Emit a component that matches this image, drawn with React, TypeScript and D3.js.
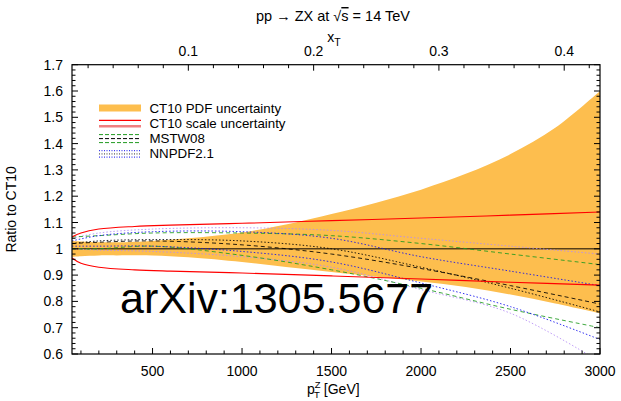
import React from "react";
import * as d3 from "d3";

// ---------- data ----------
const bandPt = [50, 100, 200, 300, 500, 700, 1000, 1300, 1500, 1750, 2000, 2250, 2500, 2750, 3000];
const bandHigh = [1.03, 1.028, 1.025, 1.025, 1.03, 1.04, 1.062, 1.1, 1.132, 1.175, 1.225, 1.285, 1.36, 1.46, 1.6];
const bandLow = [0.97, 0.972, 0.975, 0.975, 0.975, 0.968, 0.95, 0.927, 0.912, 0.894, 0.876, 0.855, 0.826, 0.792, 0.755];

const scalePt = [50, 100, 200, 400, 600, 1000, 1500, 2000, 2500, 3000];
const scaleHigh = [1.045, 1.06, 1.075, 1.085, 1.09, 1.097, 1.107, 1.117, 1.128, 1.14];
const scaleLow = [0.965, 0.945, 0.93, 0.92, 0.915, 0.908, 0.897, 0.885, 0.873, 0.862];

const ptGrid = [50, 200, 500, 1000, 1500, 2000, 2500, 3000];
const mstwCentral = [1.02, 1.025, 1.03, 1.015, 0.98, 0.925, 0.86, 0.79];
const mstwHigh = [1.045, 1.05, 1.06, 1.06, 1.05, 1.02, 0.98, 0.94];
const mstwLow = [1.0, 1.0, 1.01, 0.975, 0.92, 0.85, 0.77, 0.7];
const nnpdfCentral = [1.02, 1.03, 1.035, 1.03, 1.0, 0.93, 0.85, 0.76];
const nnpdfHigh = [1.03, 1.05, 1.065, 1.065, 1.04, 0.97, 0.915, 0.86];
const nnpdfLow = [1.01, 1.01, 1.01, 0.99, 0.95, 0.87, 0.78, 0.655];
const nnpdfAltHigh = [1.04, 1.06, 1.075, 1.08, 1.07, 1.04, 1.01, 0.98];
const nnpdfAltLow = [1.0, 0.995, 0.99, 0.97, 0.93, 0.845, 0.755, 0.57];

const xTicks = [500, 1000, 1500, 2000, 2500, 3000];
const xMinor = d3.range(100, 3001, 100);
const xtTicks = [0.1, 0.2, 0.3, 0.4];
const xtMinor = d3.range(0.02, 0.43, 0.02);
const yTicks = [0.6, 0.7, 0.8, 0.9, 1.0, 1.1, 1.2, 1.3, 1.4, 1.5, 1.6, 1.7];
const yMinor = d3.range(0.6, 1.701, 0.02);

const legendLabels = ["CT10 PDF uncertainty", "CT10 scale uncertainty", "MSTW08", "NNPDF2.1"];

// ---------- layout ----------
const W = 621, H = 401;
const L = 72, R = 600, T = 64.7, B = 354;
const FONT = "'Liberation Sans', Arial, Helvetica, sans-serif";
const ORANGE = "#fdbe4e";

export default function App() {
  const x = d3.scaleLinear().domain([50, 3000]).range([L, R]);
  const xt = d3.scaleLinear().domain([50 / 7000, 3000 / 7000]).range([L, R]);
  const y = d3.scaleLinear().domain([0.6, 1.7]).range([B, T]);

  const area = d3
    .area<number>()
    .x((_, i) => x(bandPt[i]))
    .y0((_, i) => y(bandLow[i]))
    .y1((_, i) => y(bandHigh[i]))
    .curve(d3.curveCatmullRom);

  const mk = (pts: number[], vals: number[]) =>
    d3
      .line<number>()
      .x((_, i) => x(pts[i]))
      .y((v) => y(v))
      .curve(d3.curveCatmullRom)(vals) || "";

  const series = [
    { v: nnpdfAltHigh, c: "#b48cf5", d: "1.5,2" },
    { v: nnpdfAltLow, c: "#b48cf5", d: "1.5,2" },
    { v: mstwHigh, c: "#1f9a1f", d: "4,3" },
    { v: mstwLow, c: "#1f9a1f", d: "4,3" },
    { v: nnpdfHigh, c: "#1010ee", d: "1.5,2" },
    { v: nnpdfLow, c: "#1010ee", d: "1.5,2" },
    { v: mstwCentral, c: "#000", d: "4,3" },
    { v: nnpdfCentral, c: "#000", d: "1.5,2" },
  ];

  const legY = [108, 123.3, 138.6, 153.9];

  return (
    <svg width={W} height={H} style={{ position: "absolute", left: 0, top: 0, background: "#fff" }} fontFamily={FONT}>
      <defs>
        <clipPath id="plot">
          <rect x={L} y={T} width={R - L} height={B - T} />
        </clipPath>
      </defs>

      {/* title */}
      <text x={333} y={21} textAnchor="middle" fontSize={14.5}>
        pp → ZX at √<tspan style={{ textDecoration: "overline" }}>s</tspan> = 14 TeV
      </text>
      <text x={334} y={42} textAnchor="middle" fontSize={14}>
        x<tspan fontSize={10.5} dy={4}>T</tspan>
      </text>

      <g clipPath="url(#plot)">
        <path d={area(bandPt) || ""} fill={ORANGE} />
        <line x1={L} x2={R} y1={y(1)} y2={y(1)} stroke="#3a2a10" strokeWidth={1.5} strokeOpacity={0.85} />
        {series.map((s, i) => (
          <path key={i} d={mk(ptGrid, s.v)} fill="none" stroke={s.c} strokeWidth={1} strokeOpacity={0.85} strokeDasharray={s.d} />
        ))}
        <path d={mk(scalePt, scaleHigh)} fill="none" stroke="#ff0000" strokeWidth={1.1} />
        <path d={mk(scalePt, scaleLow)} fill="none" stroke="#ff0000" strokeWidth={1.1} />
      </g>

      {/* watermark */}
      <text x={120} y={313} fontSize={43} fill="#000">arXiv:1305.5677</text>

      {/* legend */}
      <rect x={99} y={legY[0] - 3.5} width={42} height={7} fill={ORANGE} />
      <line x1={99} x2={141} y1={legY[1] - 3} y2={legY[1] - 3} stroke="#ff0000" strokeWidth={1.2} />
      <line x1={99} x2={141} y1={legY[1] + 3} y2={legY[1] + 3} stroke="#f08080" strokeWidth={2.5} />
      <line x1={99} x2={141} y1={legY[2] - 4} y2={legY[2] - 4} stroke="#1f9a1f" strokeWidth={1} strokeDasharray="4,2" />
      <line x1={99} x2={141} y1={legY[2]} y2={legY[2]} stroke="#000" strokeWidth={1} strokeDasharray="4,2" />
      <line x1={99} x2={141} y1={legY[2] + 4} y2={legY[2] + 4} stroke="#1f9a1f" strokeWidth={1} strokeDasharray="4,2" />
      <line x1={99} x2={141} y1={legY[3] - 3.2} y2={legY[3] - 3.2} stroke="#1010ee" strokeWidth={1} strokeDasharray="1,1.5" />
      <line x1={99} x2={141} y1={legY[3]} y2={legY[3]} stroke="#888" strokeWidth={1.6} strokeDasharray="1,1.5" />
      <line x1={99} x2={141} y1={legY[3] + 3.2} y2={legY[3] + 3.2} stroke="#1010ee" strokeWidth={1} strokeDasharray="1,1.5" />
      {legendLabels.map((t, i) => (
        <text key={t} x={149.5} y={legY[i] + 4.5} fontSize={13.3}>
          {t}
        </text>
      ))}

      {/* frame */}
      <rect x={L} y={T} width={R - L} height={B - T} fill="none" stroke="#000" strokeWidth={1.2} />

      {/* bottom & top ticks */}
      {xMinor.map((v) => {
        const major = xTicks.includes(v);
        const len = major ? 6 : 3.5;
        return <line key={"bx" + v} x1={x(v)} x2={x(v)} y1={B} y2={B - len} stroke="#000" strokeWidth={1} />;
      })}
      {xTicks.map((v) => (
        <text key={"bl" + v} x={x(v)} y={376} textAnchor="middle" fontSize={14}>
          {v}
        </text>
      ))}
      {xtMinor.map((v, i) => {
        const major = xtTicks.some((m) => Math.abs(m - v) < 1e-6);
        const len = major ? 6 : 3.5;
        return <line key={"tx" + i} x1={xt(v)} x2={xt(v)} y1={T} y2={T + len} stroke="#000" strokeWidth={1} />;
      })}
      {xtTicks.map((v) => (
        <text key={"tl" + v} x={xt(v)} y={55.5} textAnchor="middle" fontSize={14}>
          {v}
        </text>
      ))}

      {/* y ticks */}
      {yMinor.map((v, i) => {
        const major = Math.abs(v * 10 - Math.round(v * 10)) < 1e-6;
        const len = major ? 6 : 3.5;
        return (
          <g key={"y" + i}>
            <line x1={L} x2={L + len} y1={y(v)} y2={y(v)} stroke="#000" strokeWidth={1} />
            <line x1={R} x2={R - len} y1={y(v)} y2={y(v)} stroke="#000" strokeWidth={1} />
          </g>
        );
      })}
      {yTicks.map((v) => (
        <text key={"yl" + v} x={63} y={y(v) + 5} textAnchor="end" fontSize={14}>
          {v === 1 ? "1" : v.toFixed(1)}
        </text>
      ))}

      {/* axis labels */}
      <text transform={`translate(16,${(T + B) / 2}) rotate(-90)`} textAnchor="middle" fontSize={14}>
        Ratio to CT10
      </text>
      <text x={307} y={394} fontSize={14}>
        p<tspan fontSize={9.5} dy={-6.5}>Z</tspan>
        <tspan fontSize={9.5} dx={-6.5} dy={10}>T</tspan>
        <tspan dy={-3.5}> [GeV]</tspan>
      </text>
    </svg>
  );
}
